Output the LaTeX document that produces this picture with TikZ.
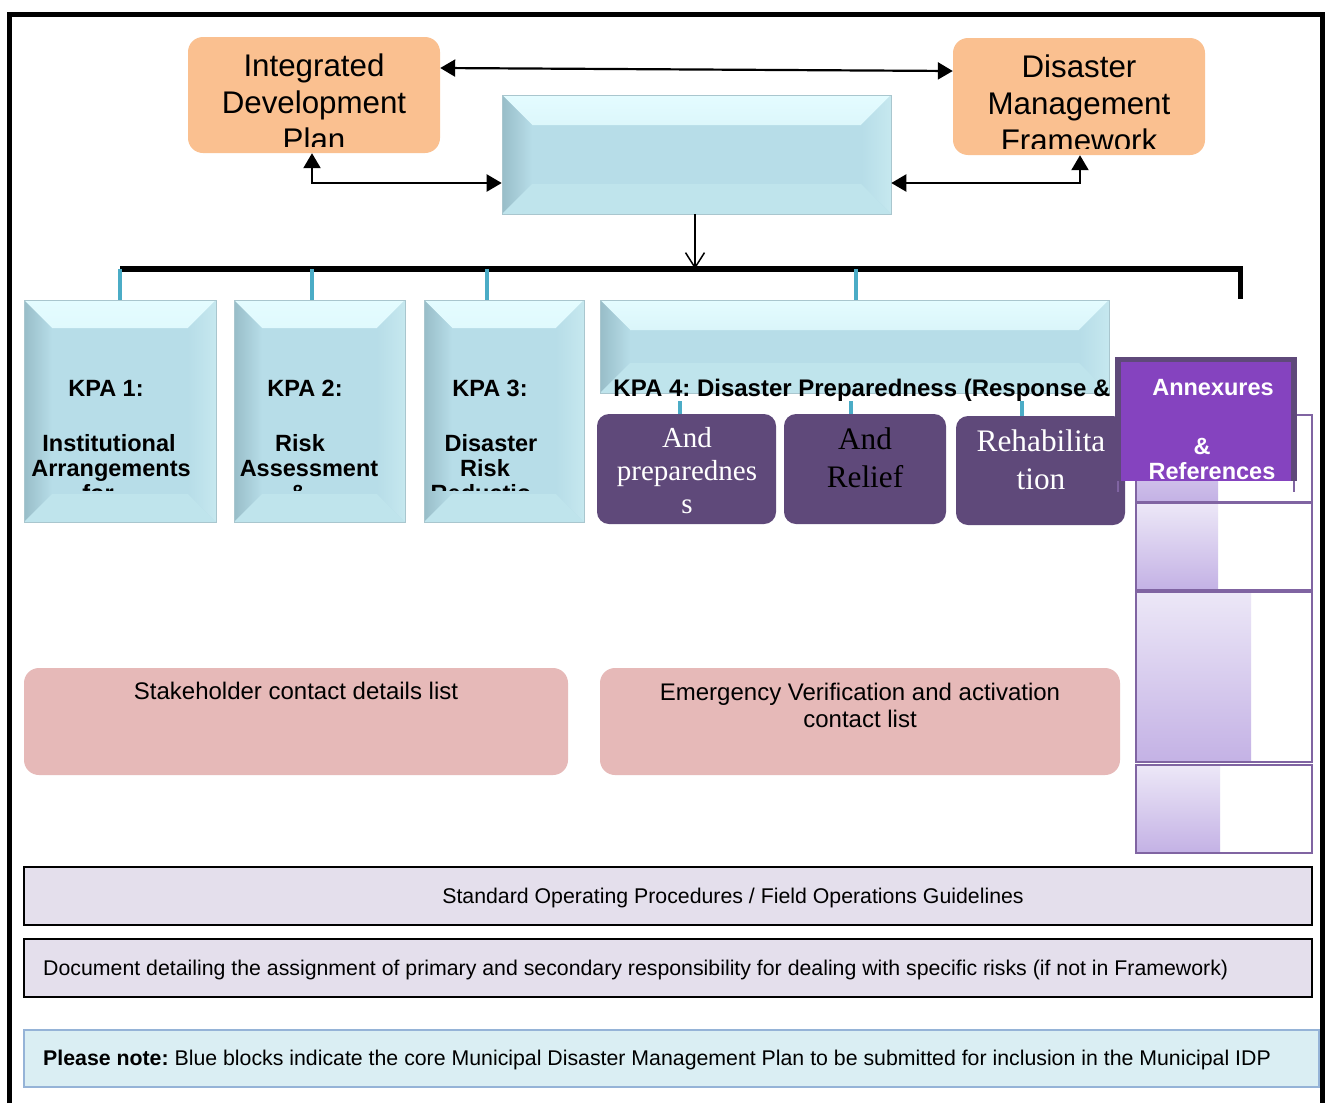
\documentclass[tikz,border=0pt]{standalone}
\usepackage{fontspec}
\setmainfont{Liberation Sans}
\newfontfamily\serifff{Liberation Serif}
\usetikzlibrary{arrows.meta,fit,calc}
\definecolor{orangeb}{HTML}{FAC090}
\definecolor{blueb}{HTML}{B7DDE8}
\definecolor{bluelt}{HTML}{E4FCFF}
\definecolor{bluedk}{HTML}{98BDC8}
\definecolor{bluert}{HTML}{C6E8EF}
\definecolor{bluebt}{HTML}{BFE4EC}
\definecolor{tealc}{HTML}{4BACC6}
\definecolor{purpdk}{HTML}{5F497A}
\definecolor{purpann}{HTML}{8543BF}
\definecolor{purpln}{HTML}{8064A2}
\definecolor{lavtop}{HTML}{ECE7F7}
\definecolor{lavbot}{HTML}{C4B2E5}
\definecolor{pinkb}{HTML}{E6B9B8}
\definecolor{lavbar}{HTML}{E4DFEC}
\definecolor{notefill}{HTML}{DAEEF3}
\definecolor{noteln}{HTML}{95B3D7}
\frenchspacing
\tikzset{
  bevel/.style={fill=blueb, draw=blueb!75!gray, line width=0.6pt, inner sep=0pt,
    path picture={
      \shade[top color=bluelt, bottom color=blueb!70!bluelt]
        (path picture bounding box.north west) -- (path picture bounding box.north east)
        -- ([shift={(-#1,#1)}]path picture bounding box.north east)
        -- ([shift={(#1,#1)}]path picture bounding box.north west) -- cycle;
      \shade[left color=bluedk, right color=blueb]
        (path picture bounding box.north west) -- ([shift={(#1,#1)}]path picture bounding box.north west)
        -- ([shift={(#1,-#1)}]path picture bounding box.south west)
        -- (path picture bounding box.south west) -- cycle;
      \shade[left color=blueb, right color=bluert]
        (path picture bounding box.north east) -- ([shift={(-#1,#1)}]path picture bounding box.north east)
        -- ([shift={(-#1,-#1)}]path picture bounding box.south east)
        -- (path picture bounding box.south east) -- cycle;
      \fill[bluebt]
        (path picture bounding box.south west) -- ([shift={(#1,-#1)}]path picture bounding box.south west)
        -- ([shift={(-#1,-#1)}]path picture bounding box.south east)
        -- (path picture bounding box.south east) -- cycle;
    }},
  orangebox/.style={fill=orangeb, rounded corners=15pt, inner sep=0pt},
  purpbox/.style={fill=purpdk, rounded corners=12pt, inner sep=0pt},
  pinkbox/.style={fill=pinkb, rounded corners=15pt, inner sep=0pt},
  listbox/.style={draw=purpln, line width=1.6pt, inner sep=0pt},
  barbox/.style={fill=lavbar, draw=black, line width=2pt, inner sep=0pt},
  ttl/.style={font=\fontsize{31.3}{37}\selectfont, inner sep=0pt, anchor=base},
  kpat/.style={font=\bfseries\fontsize{23.5}{25}\selectfont, inner sep=0pt, anchor=base},
  sert/.style={font=\serifff\fontsize{31.3}{34}\selectfont, inner sep=0pt, anchor=base, text=white},
  plaint/.style={font=\fontsize{21.3}{27}\selectfont, inner sep=0pt, anchor=base},
  pinkt/.style={font=\fontsize{24}{27}\selectfont, inner sep=0pt, anchor=base},
  conn/.style={line width=2.2pt, {Triangle[length=15pt,width=17pt]}-{Triangle[length=15pt,width=17pt]}},
  stub/.style={draw=tealc, line width=4.5pt},
  sstub/.style={draw=tealc, line width=3.5pt}
}
\begin{document}
\begin{tikzpicture}[x=1pt,y=-1pt]
\useasboundingbox (0,0) rectangle (1327,1103);
\fill[white] (0,0) rectangle (1327,1103);
% outer frame
\draw[line width=5pt] (9,1103) -- (9,14) -- (1322,14) -- (1322,1103);

% top orange boxes
\node[orangebox, fit={(188,37)(440,153)}] (idp) {};
\node[orangebox, fit={(953,38)(1205,155)}] (dmf) {};
\begin{scope}
\clip (188,37) rectangle (440,146);
\node[ttl] (idp1) at (314,76) {Integrated};
\node[ttl] (idp2) at (314,113) {Development};
\node[ttl] (idp3) at (314,150) {Plan};
\end{scope}
\begin{scope}
\clip (953,38) rectangle (1205,148);
\node[ttl] (dmf1) at (1079,77) {Disaster};
\node[ttl] (dmf2) at (1079,114) {Management};
\node[ttl] (dmf3) at (1079,151) {Framework};
\end{scope}

% core box
\node[bevel=30, fit={(502,95)(891,214)}] (core) {};

% connectors top
\draw[conn] ([yshift=27pt]idp.east) -- ([yshift=25.5pt]dmf.west);
\draw[conn] ([xshift=-2pt]idp.south) |- ([yshift=-28.5pt]core.west);
\draw[conn] ([xshift=1pt]dmf.south) |- ([yshift=-28.5pt]core.east);

% bus
\coordinate (busL) at (120,269);
\coordinate (busR) at (1240,269);
\coordinate (busE) at (1240,299);
\draw[line width=6pt] (busL) -- (busR);
\draw[line width=5pt] ([yshift=3pt]busR) -- (busE);
\draw[line width=1.5pt, -{Straight Barb[length=15pt,width=19pt]}] ([xshift=-1.5pt]core.south) -- ([xshift=-1.5pt]core.south |- busL);

% KPA boxes
\node[bevel=28, fit={(24,300)(216,522)}] (k1) {};
\node[bevel=28, fit={(234,300)(405,522)}] (k2) {};
\node[bevel=28, fit={(424,300)(584,522)}] (k3) {};
\node[bevel=30, fit={(600,300)(1109,393)}] (k4) {};

\draw[stub] (k1.north) -- (k1.north |- busL);
\draw[stub] ([xshift=-7.5pt]k2.north) -- ([xshift=-7.5pt]k2.north |- busL);
\draw[stub] ([xshift=-17pt]k3.north) -- ([xshift=-17pt]k3.north |- busL);
\draw[stub] ([xshift=1.5pt]k4.north) -- ([xshift=1.5pt]k4.north |- busL);

\node[kpat] (k1a) at (106,396) {KPA 1:};
\node[kpat] (k2a) at (305,396) {KPA 2:};
\node[kpat] (k3a) at (490,396) {KPA 3:};
\begin{scope}
\clip (24,300) rectangle (584,490);
\node[kpat] (k1b) at (109,451) {Institutional};
\node[kpat] (k1c) at (111,476) {Arrangements};
\node[kpat] (k1d) at (98,501) {for};
\node[kpat] (k2b) at (300,451) {Risk};
\node[kpat] (k2c) at (309,476) {Assessment};
\node[kpat] (k2d) at (298,501) {\&};
\node[kpat] (k3b) at (491,451) {Disaster};
\node[kpat] (k3c) at (485,476) {Risk};
\node[kpat] (k3d) at (481,501) {Reductio};
\end{scope}

% right list boxes
\shade[top color=lavtop, bottom color=lavbot] (1137,416) rectangle (1218,501);
\node[listbox, fit={(1136,415)(1312,502)}] (r1) {};
\shade[top color=lavtop, bottom color=lavbot] (1137,504) rectangle (1218,589);
\node[listbox, fit={(1136,503)(1312,590)}] (r2) {};
\shade[top color=lavtop, bottom color=lavbot] (1137,593) rectangle (1251,761);
\node[listbox, fit={(1136,592)(1312,762)}] (r3) {};
\shade[top color=lavtop, bottom color=lavbot] (1137,766) rectangle (1220,852);
\node[listbox, fit={(1136,765)(1312,853)}] (r4) {};

% purple boxes
\node[purpbox, fit={(597,414)(776,524)}] (p1) {};
\node[purpbox, fit={(784,414)(946,524)}] (p2) {};
\node[purpbox, fit={(956,416)(1125,525)}] (p3) {};
\draw[sstub] ([xshift=-6.5pt]p1.north) -- ++(0,-13);
\draw[sstub] ([xshift=-14pt]p2.north) -- ++(0,-13);
\draw[sstub] ([xshift=-18.5pt]p3.north) -- ++(0,-15);

\node[kpat, font=\bfseries\fontsize{24}{25}\selectfont] (k4a) at (862,396) {KPA 4: Disaster Preparedness (Response \&};

\node[sert, font=\serifff\fontsize{29}{34}\selectfont] (p1a) at (687,447) {And};
\node[sert, font=\serifff\fontsize{29}{34}\selectfont] (p1b) at (687,480) {preparednes};
\node[sert, font=\serifff\fontsize{29}{34}\selectfont] (p1c) at (687,513) {s};
\node[sert, text=black] (p2a) at (865,449) {And};
\node[sert, text=black] (p2b) at (865,487) {Relief};
\node[sert] (p3a) at (1041,451) {Rehabilita};
\node[sert] (p3b) at (1041,489) {tion};

% Annexures
\node[fill=purpdk, inner sep=0pt, fit={(1115,357)(1297,481)}] (ann) {};
\fill[purpann] (1121,362) rectangle (1291,481);
\draw[purpln, line width=1.5pt] ([xshift=3pt]ann.south west) -- ++(0,11);
\draw[purpln, line width=1.5pt] ([xshift=-3pt]ann.south east) -- ++(0,11);
\node[kpat, text=white] (ann1) at (1213,395) {Annexures};
\node[kpat, text=white] (ann2) at (1202,454) {\&};
\node[kpat, text=white] (ann3) at (1212,479) {References};

% pink boxes
\node[pinkbox, fit={(24,668)(568,775)}] (s1) {};
\node[pinkbox, fit={(600,668)(1120,775)}] (s2) {};
\node[pinkt] (s1a) at (296,699) {Stakeholder contact details list};
\node[pinkt] (s2a) at (860,700) {Emergency Verification and activation};
\node[pinkt] (s2b) at (860,727) {contact list};

% bars
\node[barbox, fit={(24,867)(1312,925)}] (sop) {};
\node[plaint] (sopt) at (733,903) {Standard Operating Procedures / Field Operations Guidelines};
\node[barbox, fit={(24,939)(1312,997)}] (doc) {};
\node[plaint, anchor=base west] (doct) at (43,975) {Document detailing the assignment of primary and secondary responsibility for dealing with specific risks (if not in Framework)};

% note
\node[fill=notefill, draw=noteln, line width=2.5pt, inner sep=0pt, fit={(24,1030)(1319,1087)}] (note) {};
\node[plaint, anchor=base west] (notet) at (43,1065) {\textbf{Please note:} Blue blocks indicate the core Municipal Disaster Management Plan to be submitted for inclusion in the Municipal IDP};
\end{tikzpicture}
\end{document}
